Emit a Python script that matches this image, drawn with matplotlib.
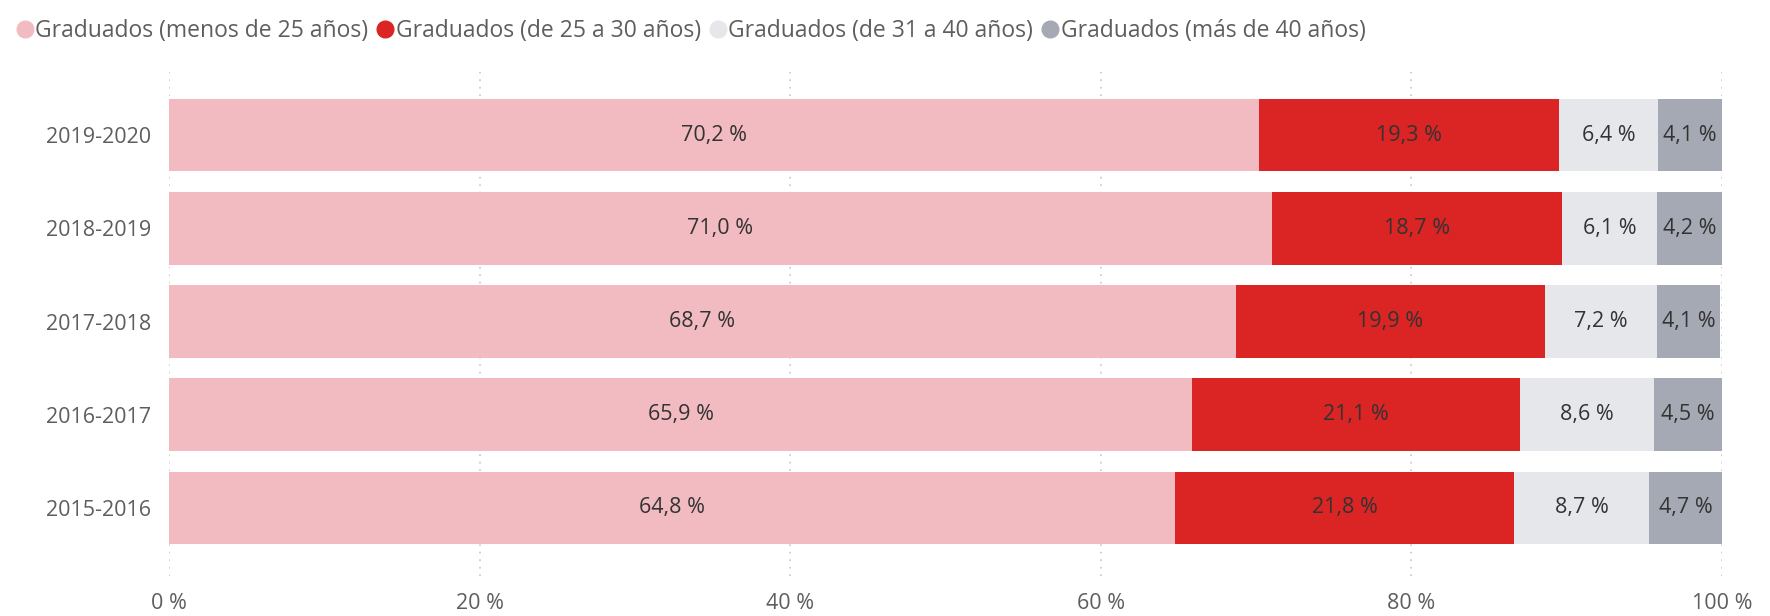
import matplotlib.pyplot as plt
from matplotlib.lines import Line2D
from matplotlib.ticker import FuncFormatter

plt.rcParams["font.family"] = ["Open Sans", "DejaVu Sans"]

cursos = ["2015-2016", "2016-2017", "2017-2018", "2018-2019", "2019-2020"]
series = [
    "Graduados (menos de 25 años)",
    "Graduados (de 25 a 30 años)",
    "Graduados (de 31 a 40 años)",
    "Graduados (más de 40 años)",
]
menos_25 = [64.8, 65.9, 68.7, 71.0, 70.2]
de_25_30 = [21.8, 21.1, 19.9, 18.7, 19.3]
de_31_40 = [8.7, 8.6, 7.2, 6.1, 6.4]
mas_40 = [4.7, 4.5, 4.1, 4.2, 4.1]

colores = ["#F2BBC1", "#DB2424", "#E6E7EB", "#A5A9B3"]
texto = "#605E5C"

fig = plt.figure(figsize=(17.7, 6.16), dpi=100)
ax = fig.add_axes([169 / 1770, 0.065, (1722 - 169) / 1770, 0.82])

valores = [menos_25, de_25_30, de_31_40, mas_40]
izquierda = [0.0] * len(cursos)
for nombre, vals, color in zip(series, valores, colores):
    barras = ax.barh(cursos, vals, left=izquierda, height=0.78, color=color,
                     linewidth=0, label=nombre, zorder=2)
    etiquetas = [f"{v:.1f} %".replace(".", ",") for v in vals]
    ax.bar_label(barras, labels=etiquetas, label_type="center",
                 fontsize=15.5, color="#333333")
    izquierda = [a + b for a, b in zip(izquierda, vals)]

ax.set_xlim(0, 100)
ax.set_ylim(-0.73, 4.69)
ax.set_xticks([0, 20, 40, 60, 80, 100])
ax.xaxis.set_major_formatter(FuncFormatter(lambda x, _: f"{x:.0f} %"))
ax.grid(axis="x", linestyle=(0, (1, 3.5)), color="#C8C8C8", linewidth=1.2,
        zorder=0)
for lado in ax.spines.values():
    lado.set_visible(False)
ax.tick_params(axis="both", length=0, labelsize=15.5, colors=texto)
ax.tick_params(axis="x", pad=12)
ax.tick_params(axis="y", pad=13)

handles = [Line2D([], [], marker="o", linestyle="", markersize=12,
                  markerfacecolor=c, markeredgecolor=c) for c in colores]
fig.legend(handles, series, loc="upper left", bbox_to_anchor=(-0.001, 0.995),
           ncol=4, frameon=False, fontsize=16.5, labelcolor=texto,
           handletextpad=0.0, columnspacing=0.3, handlelength=0.9,
           borderaxespad=0.3)

fig.savefig("out.png", dpi=100)
